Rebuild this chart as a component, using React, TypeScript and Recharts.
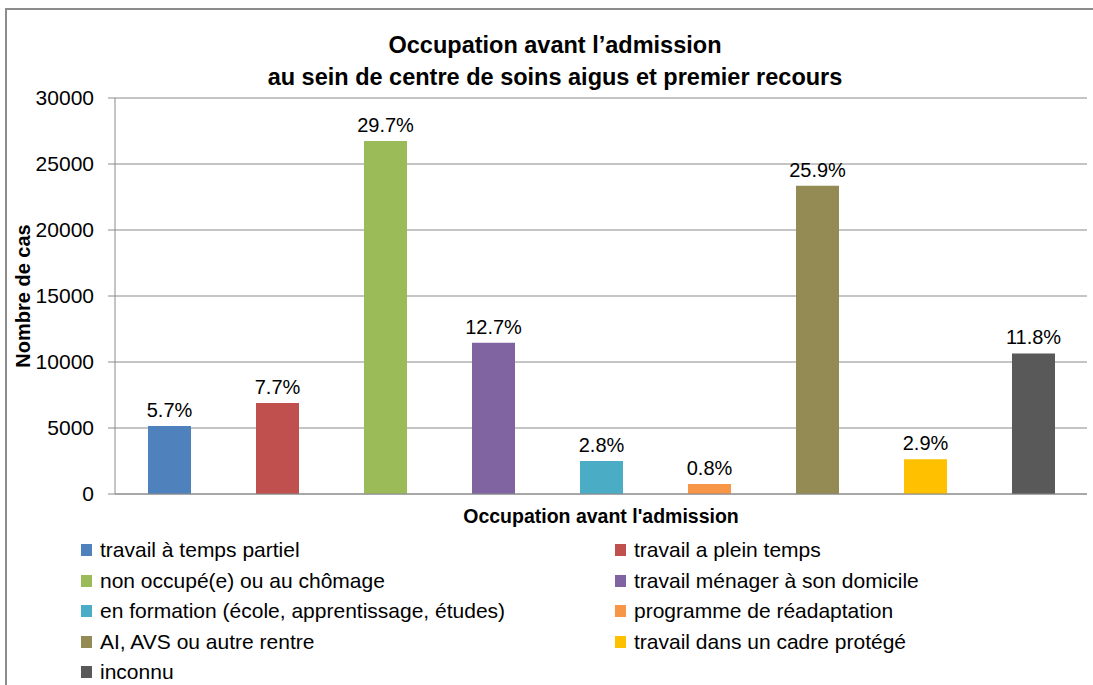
import React from 'react';
import { BarChart, Bar, XAxis, YAxis, CartesianGrid, Cell, LabelList, Legend, Label } from 'recharts';

const categories = [
  'travail à temps partiel',
  'travail a plein temps',
  'non occupé(e) ou au chômage',
  'travail ménager à son domicile',
  'en formation (école, apprentissage, études)',
  'programme de réadaptation',
  'AI, AVS ou autre rentre',
  'travail dans un cadre protégé',
  'inconnu',
];
const counts = [5150, 6900, 26750, 11450, 2500, 750, 23350, 2630, 10650];
const percentLabels = ['5.7%', '7.7%', '29.7%', '12.7%', '2.8%', '0.8%', '25.9%', '2.9%', '11.8%'];
const colors = ['#4F81BD', '#C0504D', '#9BBB59', '#8064A2', '#4BACC6', '#F79646', '#948A54', '#FFC000', '#595959'];
const yTicks = [0, 5000, 10000, 15000, 20000, 25000, 30000];

const data = categories.map((name, i) => ({ name, value: counts[i], pct: percentLabels[i] }));

const FONT = "'Liberation Sans', Arial, sans-serif";
const GRID = '#8a8a8a';

// legend in two columns, rows filled left to right
const LegendBox = () => (
  <div style={{ display: 'grid', gridTemplateColumns: '534px 460px', rowGap: 0, fontFamily: FONT }}>
    {categories.map((c, i) => (
      <div key={c} style={{ display: 'flex', alignItems: 'center', height: 30.5, fontSize: 21, color: '#000', whiteSpace: 'nowrap' }}>
        <span style={{ width: 11, height: 12, background: colors[i], marginRight: 8, display: 'inline-block', flexShrink: 0 }} />
        {c}
      </div>
    ))}
  </div>
);

export default function App() {
  return (
    <div style={{ position: 'absolute', left: 0, top: 0, width: 1093, height: 685, overflow: 'hidden', background: '#fff', fontFamily: FONT }}>
      <div style={{ position: 'absolute', left: 5, top: 8, width: 1100, height: 700, border: '2px solid #8c8c8c' }} />
      <div style={{ position: 'absolute', left: 0, top: 29, width: 1110, textAlign: 'center', fontWeight: 'bold', fontSize: 23.5, lineHeight: '32px', color: '#000' }}>
        <div>Occupation avant l’admission</div>
        <div>au sein de centre de soins aigus et premier recours</div>
      </div>
      <div style={{ position: 'absolute', left: 0, top: 0 }}>
        <BarChart width={1093} height={685} data={data} margin={{ top: 98, right: 6, left: 0, bottom: 156 }}>
          <CartesianGrid vertical={false} stroke={GRID} />
          <XAxis dataKey="name" tick={false} tickLine={false} axisLine={{ stroke: GRID }} height={35}>
            <Label
              content={({ viewBox }: any) => (
                <text x={viewBox.x + viewBox.width / 2} y={viewBox.y + 22} textAnchor="middle" dominantBaseline="central" fontWeight="bold" fontSize={19.5} fill="#000">
                  Occupation avant l'admission
                </text>
              )}
            />
          </XAxis>
          <YAxis
            domain={[0, 30000]}
            ticks={yTicks}
            width={115}
            tickSize={7}
            tickMargin={14}
            tickLine={{ stroke: GRID }}
            axisLine={{ stroke: GRID }}
            tick={{ fill: '#000', fontSize: 21 }}
          >
            <Label
              content={({ viewBox }: any) => {
                const cy = viewBox.y + viewBox.height / 2;
                return (
                  <text x={23} y={cy} transform={`rotate(-90 23 ${cy})`} textAnchor="middle" dominantBaseline="central" fontWeight="bold" fontSize={20} fill="#000">
                    Nombre de cas
                  </text>
                );
              }}
            />
          </YAxis>
          <Legend
            layout="horizontal"
            verticalAlign="middle"
            align="center"
            wrapperStyle={{ left: 81, top: 535, width: 1000 }}
            content={() => <LegendBox />}
          />
          <Bar dataKey="value" barSize={43} isAnimationActive={false}>
            {data.map((d, i) => (
              <Cell key={d.name} fill={colors[i]} />
            ))}
            <LabelList dataKey="pct" position="top" offset={9} fill="#000" fontSize={20} />
          </Bar>
        </BarChart>
      </div>
    </div>
  );
}
